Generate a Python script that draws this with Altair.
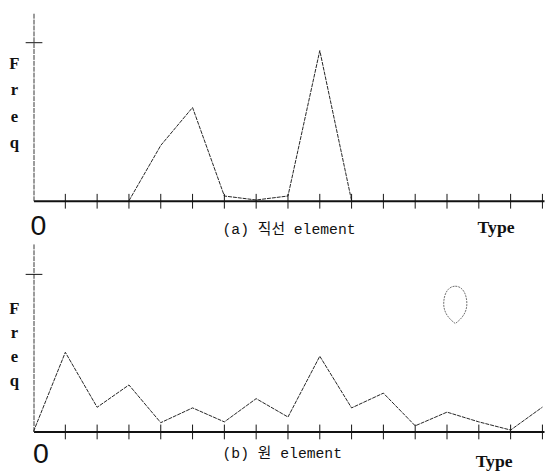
import altair as alt
import pandas as pd

# ---- data ----
types_a = [3, 4, 5, 6, 7, 8, 9, 10]
freq_a = [0.0, 0.35, 0.59, 0.03, 0.005, 0.03, 0.95, 0.0]

types_b = [0, 1, 2, 3, 4, 5, 6, 7, 8, 9, 10, 11, 12, 13, 14, 15, 16]
freq_b = [0.0, 0.504, 0.154, 0.296, 0.056, 0.15, 0.061, 0.209, 0.092,
          0.479, 0.15, 0.244, 0.036, 0.123, 0.061, 0.009, 0.155]

tick_types = list(range(1, 17))
top_tick = [1.0]

mark_type = [13.26]
mark_freq = [0.806]

caption_a = "(a) 직선 element"
caption_b = "(b) 원 element"
type_label = "Type"
zero_label = "0"
y_title = ["F", "r", "e", "q"]

W = 520
H = 192
XMAX = 16.05

EGG = ("M0,-1 C0.38,-1 0.62,-0.6 0.62,-0.05 C0.62,0.45 0.3,0.78 0,1 "
       "C-0.3,0.78 -0.62,0.45 -0.62,-0.05 C-0.62,-0.6 -0.38,-1 0,-1 Z")

CAP_FONT = "'Liberation Mono', 'Noto Sans CJK KR'"


def panel(types, freqs, caption, ymax, title_y, title_lh, cap_y,
          zero_pad, zero_dx, type_x, type_y, with_mark=False):
    xs = alt.Scale(domain=[0, XMAX], nice=False, zero=False)
    ys = alt.Scale(domain=[0, ymax], nice=False)
    xaxis = alt.Axis(
        values=[0], labelExpr=f"'{zero_label}'", ticks=False, tickSize=0,
        grid=False, domainColor="#111", domainWidth=2,
        labelFont="Liberation Sans", labelFontSize=29, labelColor="#111",
        labelPadding=zero_pad, labelOffset=zero_dx, labelBaseline="top",
        labelAlign="center", labelFlush=False,
        title=caption, titleFont=CAP_FONT, titleFontSize=15,
        titleFontWeight="normal", titleColor="#111",
        titleX=192, titleY=cap_y, titleAlign="left",
        titleBaseline="alphabetic",
    )
    yaxis = alt.Axis(
        ticks=False, labels=False, grid=False, domainColor="#333",
        domainWidth=1, domainDash=[5, 1],
        title=y_title, titleAngle=0, titleX=-20, titleY=title_y,
        titleAlign="center", titleBaseline="alphabetic",
        titleFont="Liberation Serif", titleFontWeight="bold",
        titleFontSize=17, titleLineHeight=title_lh, titleColor="#111",
    )
    X = alt.X("type:Q", scale=xs, axis=xaxis)
    Y = alt.Y("freq:Q", scale=ys, axis=yaxis)
    df = pd.DataFrame({"type": types, "freq": freqs})
    line = alt.Chart(df).mark_line(
        color="#222", strokeWidth=1, strokeDash=[4, 1]
    ).encode(x=X, y=Y)
    ticks = alt.Chart(pd.DataFrame({"type": tick_types})).mark_rule(
        color="#111", strokeWidth=1
    ).encode(x=X, y=alt.value(H - 7), y2=alt.value(H + 8))
    ytick = alt.Chart(pd.DataFrame({"freq": top_tick})).mark_rule(
        color="#111", strokeWidth=1
    ).encode(y=Y, x=alt.value(-8), x2=alt.value(9))
    ttxt = alt.Chart(pd.DataFrame({"t": [type_label]})).mark_text(
        font="Liberation Serif", fontWeight="bold", fontSize=18,
        align="right", baseline="alphabetic", color="#111"
    ).encode(text="t:N", x=alt.value(type_x), y=alt.value(type_y))
    layers = [line, ticks, ytick, ttxt]
    if with_mark:
        egg = alt.Chart(pd.DataFrame({"type": mark_type, "freq": mark_freq})).mark_point(
            shape=EGG, size=1444, filled=False, stroke="#333",
            strokeWidth=1, strokeDash=[2, 1]
        ).encode(x=X, y=Y)
        layers.append(egg)
    return alt.layer(*layers).properties(width=W, height=H)


pa = panel(types_a, freq_a, caption_a, 1.1925, 57, 27, 33, 11, 4.5, 490, 225)
pb = panel(types_b, freq_b, caption_b, 1.2, 72, 24.5, 27, 9, 7, 488, 228,
           with_mark=True)

chart = alt.vconcat(pa, pb, spacing=43, bounds="flush").properties(
    padding=0, background="white"
).configure_view(stroke=None)

chart.save("out.html", embed_options={"renderer": "svg", "actions": False})
